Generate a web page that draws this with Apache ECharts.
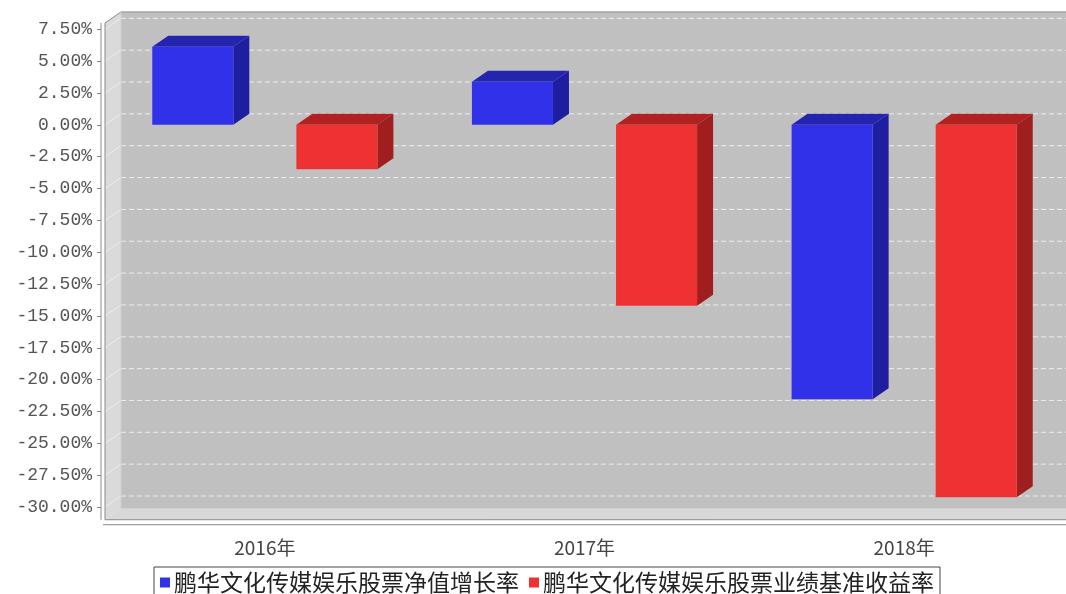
<!DOCTYPE html>
<html>
<head>
<meta charset="utf-8">
<script src="https://cdn.jsdelivr.net/npm/echarts@6/dist/echarts.min.js"></script>
<style>
html,body{margin:0;padding:0;background:#fff;}
#chart{width:1066px;height:594px;}
</style>
</head>
<body>
<div id="chart"></div>
<script>
// ---- data ----
const categories = ['2016年', '2017年', '2018年'];
const seriesNames = ['鹏华文化传媒娱乐股票净值增长率', '鹏华文化传媒娱乐股票业绩基准收益率'];
const navGrowth = [6.13, 3.39, -21.54];        // 净值增长率 (%)
const benchmarkReturn = [-3.49, -14.21, -29.23]; // 业绩基准收益率 (%)
const yTicks = [-30, -27.5, -25, -22.5, -20, -17.5, -15, -12.5, -10, -7.5, -5, -2.5, 0, 2.5, 5, 7.5];

// ---- styling / 3D geometry ----
const DX = 16, DY = -11;
const PLANE_TOP = 8, PLANE_BOTTOM = -31;
const BAR_W = 0.2535, BAR_OFF = 0.2254;
const COLORS = [
  {front: '#3131EA', top: '#2424AE', side: '#1E1EA0'},
  {front: '#EE3131', top: '#B02222', side: '#A01E1E'}
];

function decorRender(params, api) {
  const cs = params.coordSys;
  const xL = cs.x, xR = cs.x + cs.width;
  const yT = api.coord([0, PLANE_TOP])[1];
  const yB = api.coord([0, PLANE_BOTTOM])[1];
  const children = [];
  // back wall
  children.push({type: 'rect', shape: {x: xL + DX, y: yT + DY, width: xR - xL + 40, height: yB - yT}, style: {fill: '#C0C0C0'}});
  // left side wall
  children.push({type: 'polygon', shape: {points: [[xL, yT], [xL + DX, yT + DY], [xL + DX, yB + DY], [xL, yB]]}, style: {fill: '#DADADA'}});
  // floor
  children.push({type: 'polygon', shape: {points: [[xL, yB], [xL + DX, yB + DY], [xR + DX + 40, yB + DY], [xR + 40, yB]]}, style: {fill: '#D8D8D8'}});
  // gridlines
  yTicks.forEach(function (v) {
    const y = api.coord([0, v])[1];
    children.push({type: 'line', shape: {x1: xL + DX, y1: y + DY, x2: xR + DX + 40, y2: y + DY},
      style: {stroke: '#EDEDED', lineWidth: 1, lineDash: [5, 3]}});
    children.push({type: 'line', shape: {x1: xL, y1: y, x2: xL + DX, y2: y + DY},
      style: {stroke: '#FFFFFF', opacity: 0.5, lineWidth: 1}});
  });
  // outlines
  children.push({type: 'polyline', shape: {points: [[xR + 40, yB], [xL, yB], [xL, yT], [xL + DX, yT + DY], [xR + DX + 40, yT + DY]]},
    style: {stroke: '#8A8A8A', lineWidth: 1, fill: null}});
  children.push({type: 'line', shape: {x1: xL + DX, y1: yT + DY, x2: xL + DX, y2: yB + DY},
    style: {stroke: '#CFCFCF', lineWidth: 1}});
  // y axis line
  children.push({type: 'line', shape: {x1: xL - 4, y1: yT, x2: xL - 4, y2: yB}, style: {stroke: '#888', lineWidth: 1}});
  // x axis line
  children.push({type: 'line', shape: {x1: xL - 2, y1: yB + 5, x2: xR + 40, y2: yB + 5}, style: {stroke: '#888', lineWidth: 1}});
  return {type: 'group', children: children};
}

function barRender(idx, sign) {
  return function (params, api) {
    const cat = api.value(0), v = api.value(1);
    const c0 = api.coord([cat, 0]);
    const c1 = api.coord([cat, v]);
    const band = api.size([1, 0])[0];
    const w = band * BAR_W;
    const cx = c0[0] + sign * band * BAR_OFF;
    const top = Math.min(c0[1], c1[1]), bot = Math.max(c0[1], c1[1]);
    const x0 = cx - w / 2, x1 = cx + w / 2;
    const col = COLORS[idx];
    return {type: 'group', children: [
      {type: 'polygon', shape: {points: [[x0, top], [x0 + DX, top + DY], [x1 + DX, top + DY], [x1, top]]}, style: {fill: col.top}},
      {type: 'polygon', shape: {points: [[x1, top], [x1 + DX, top + DY], [x1 + DX, bot + DY], [x1, bot]]}, style: {fill: col.side}},
      {type: 'rect', shape: {x: x0, y: top, width: w, height: bot - top}, style: {fill: col.front}}
    ]};
  };
}

const chart = echarts.init(document.getElementById('chart'), null, {renderer: 'canvas'});
chart.setOption({
  backgroundColor: '#ffffff',
  animation: false,
  grid: {left: 105, right: 2, top: 29.3, bottom: 87, containLabel: false},
  xAxis: {
    type: 'category', data: categories, offset: 18,
    axisLine: {show: false},
    axisTick: {show: true, alignWithLabel: true, length: 4, lineStyle: {color: '#888'}},
    axisLabel: {margin: 13, fontSize: 19, color: '#444', fontFamily: '"Noto Sans CJK SC", sans-serif'},
    splitLine: {show: false}
  },
  yAxis: {
    type: 'value', min: -30, max: 7.5, interval: 2.5, offset: 4,
    axisLine: {show: false},
    axisTick: {show: true, length: 4, lineStyle: {color: '#888'}},
    axisLabel: {margin: 9, fontSize: 18, color: '#555', fontFamily: '"Liberation Mono", monospace',
      formatter: function (v) { return v.toFixed(2) + '%'; }},
    splitLine: {show: false}
  },
  legend: {
    data: [{name: seriesNames[0], icon: 'rect'}, {name: seriesNames[1], icon: 'rect'}],
    left: 154, top: 567,
    itemWidth: 10, itemHeight: 10, itemGap: 10,
    padding: [4, 6, 4, 6],
    borderColor: '#444', borderWidth: 1,
    textStyle: {fontSize: 23, color: '#222', fontFamily: '"Noto Sans CJK SC", sans-serif', padding: [0, 0, 0, -1]}
  },
  series: [
    {type: 'custom', name: 'decor', renderItem: decorRender, data: [[0, 0]], silent: true, z: 1},
    {type: 'custom', name: seriesNames[0], itemStyle: {color: COLORS[0].front}, z: 3,
      renderItem: barRender(0, -1), data: navGrowth.map(function (v, i) { return [i, v]; })},
    {type: 'custom', name: seriesNames[1], itemStyle: {color: COLORS[1].front}, z: 3,
      renderItem: barRender(1, 1), data: benchmarkReturn.map(function (v, i) { return [i, v]; })}
  ]
});
</script>
</body>
</html>
